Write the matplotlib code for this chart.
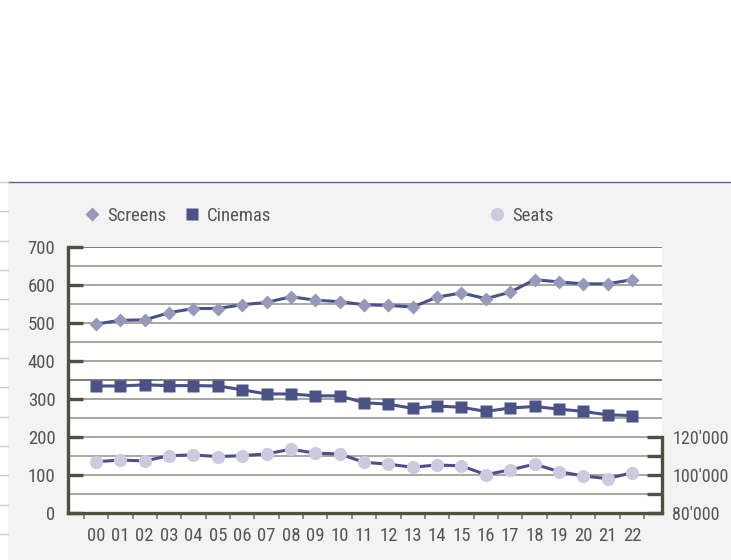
import numpy as np
import matplotlib.pyplot as plt
from matplotlib import font_manager
from matplotlib.lines import Line2D
from matplotlib.patches import Rectangle
from matplotlib.ticker import FuncFormatter

# pick the narrowest sans that is installed
installed = {(f.name, f.stretch) for f in font_manager.fontManager.ttflist}
names = {n for n, s in installed}
font_fam, font_stretch = 'Liberation Sans', 'normal'
for cand in ['Liberation Sans Narrow', 'Roboto Condensed', 'Open Sans Condensed']:
    if cand in names:
        font_fam = cand
        break
else:
    for n, s in installed:
        if n == 'DejaVu Sans' and s in ('condensed', 'semi-condensed'):
            font_fam, font_stretch = 'DejaVu Sans', s
            break
    else:
        if 'Roboto' in names:
            font_fam = 'Roboto'
plt.rcParams['font.family'] = [font_fam, 'DejaVu Sans']
plt.rcParams['font.stretch'] = font_stretch

years = ['00', '01', '02', '03', '04', '05', '06', '07', '08', '09', '10', '11',
         '12', '13', '14', '15', '16', '17', '18', '19', '20', '21', '22']
screens = [497, 507, 508, 527, 538, 538, 548, 554, 569, 560, 556, 548,
           546, 542, 568, 579, 564, 581, 614, 608, 603, 603, 614]
cinemas = [334, 334, 337, 335, 335, 334, 324, 313, 313, 308, 308, 290,
           286, 275, 281, 278, 267, 276, 280, 273, 267, 258, 256]
seats = [106900, 107800, 107300, 110100, 110500, 109600, 110100, 111000, 113500, 111400, 111000, 106600,
         105600, 104000, 105200, 104700, 100100, 102600, 105600, 101700, 99400, 98000, 101100]

W, H = 731, 560
line_col = '#4a5088'
axis_col = '#4b5240'
grid_col = '#969b8c'
text_col = '#555555'
fs = 13.5

fig = plt.figure(figsize=(W / 100, H / 100), dpi=100)
fig.patch.set_facecolor('white')

# gray panel + blue rule on top
fig.add_artist(Rectangle((8 / W, 0), 1 - 8 / W, (H - 182) / H, transform=fig.transFigure,
                         facecolor='#f3f3f3', edgecolor='none', zorder=0))
fig.add_artist(Line2D([8 / W, 1], [(H - 182) / H] * 2, transform=fig.transFigure,
                      color='#5563a3', lw=1.0, zorder=1))
for yy in np.arange(182, 560, 29.33):
    fig.add_artist(Line2D([0, 8 / W], [(H - yy) / H] * 2, transform=fig.transFigure,
                          color='#cccccc', lw=1.0, zorder=1))

ax = fig.add_axes([68 / W, (H - 512.8) / H, (662 - 68) / W, (512.8 - 247) / H])
ax.set_facecolor('white')
x = np.arange(len(years))
ax.set_xlim(-1.15, 23.23)
ax.set_ylim(0, 700)
ax.set_axisbelow(True)

for v in np.arange(50, 701, 50):
    dark = v in (350, 700)
    ax.axhline(v, color='#646a5c' if dark else grid_col, lw=1.2, zorder=0.5)

ax.plot(x, screens, color=line_col, lw=2.2, marker='D', ms=7.5,
        mfc='#9898bb', mec='none', zorder=3)
ax.plot(x, cinemas, color=line_col, lw=2.2, marker='s', ms=8.5,
        mfc='#4a5286', mec='none', zorder=3)

for s in ('top', 'right'):
    ax.spines[s].set_visible(False)
for s in ('left', 'bottom'):
    ax.spines[s].set_color(axis_col)
    ax.spines[s].set_linewidth(2.4)

ax.set_yticks(np.arange(0, 701, 100))
ax.tick_params(axis='y', direction='in', length=11, width=2.4, color=axis_col,
               labelsize=fs, labelcolor=text_col, pad=9)
ax.set_xticks(x)
ax.set_xticklabels(years)
ax.tick_params(axis='x', which='major', length=0, labelsize=fs, labelcolor=text_col, pad=10.5)
ax.set_xticks(np.arange(-0.5, 23, 1), minor=True)
ax.tick_params(axis='x', which='minor', direction='out', length=4.5, width=1.2, color='#777777')

ax2 = ax.twinx()
ax2.set_ylim(80000, 220000)
ax2.plot(x, seats, color=line_col, lw=2.2, marker='o', ms=9.5,
         mfc='#cdcae0', mec='none', zorder=3)
for s in ('top', 'left', 'bottom'):
    ax2.spines[s].set_visible(False)
ax2.spines['right'].set_bounds(80000, 120000)
ax2.spines['right'].set_color(axis_col)
ax2.spines['right'].set_linewidth(2.4)
ax2.set_yticks(np.arange(80000, 120001, 10000))
ax2.yaxis.set_major_formatter(FuncFormatter(
    lambda v, p: f"{int(v) // 1000}'000" if int(v) % 20000 == 0 else ''))
ax2.tick_params(axis='y', direction='in', length=11, width=2.4, color=axis_col,
                labelsize=13, labelcolor=text_col, pad=7.5)

handles = [
    Line2D([], [], ls='none', marker='D', ms=7.5, mfc='#9898bb', mec='none'),
    Line2D([], [], ls='none', marker='s', ms=8.5, mfc='#4a5286', mec='none'),
    Line2D([], [], ls='none', marker='o', ms=9.5, mfc='#cdcae0', mec='none'),
]
labels = ['Screens', 'Cinemas', 'Seats']
lefts = [83, 183, 488]
for h, lab, lx in zip(handles, labels, lefts):
    fig.legend([h], [lab], loc='center left', bbox_to_anchor=(lx / W, 1 - 216 / H),
               frameon=False, borderpad=0, borderaxespad=0, handlelength=1,
               handletextpad=0.3, fontsize=fs, labelcolor=text_col)

fig.savefig('out.png', dpi=100)
